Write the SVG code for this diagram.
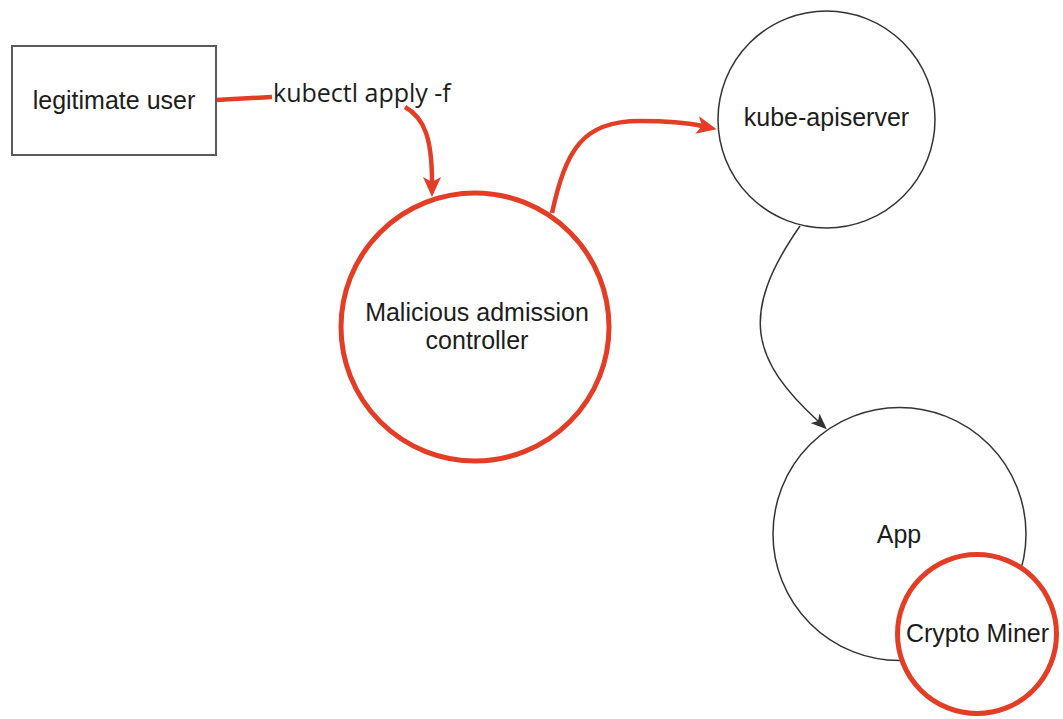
<svg xmlns="http://www.w3.org/2000/svg" width="1063" height="719" viewBox="0 0 1063 719">
  <style>
    .label { font-family: "Liberation Sans", Arial, sans-serif; font-size: 25px; fill: #1c1c1c; text-anchor: middle; }
    .cmd { font-family: "Open Sans", "DejaVu Sans", sans-serif; font-size: 25px; fill: #1c1c1c; }
    .plain { fill: #ffffff; stroke: #333333; stroke-width: 1.5; }
    .alert { fill: #ffffff; stroke: #e33d26; stroke-width: 5; }
    .box { fill: #ffffff; stroke: #5a5a5a; stroke-width: 2; }
    .link-red { fill: none; stroke: #e33d26; stroke-width: 4.5; }
    .link-dark { fill: none; stroke: #333333; stroke-width: 1.5; }
  </style>
  <defs>
    <marker id="arrow-red" markerUnits="userSpaceOnUse" viewBox="0 0 20 18" markerWidth="20" markerHeight="18" refX="5" refY="9" orient="auto">
      <path d="M0,0 L20,9 L0,18 L5,9 Z" fill="#e33d26"/>
    </marker>
    <marker id="arrow-dark" markerUnits="userSpaceOnUse" viewBox="0 0 16 13" markerWidth="16" markerHeight="13" refX="4" refY="6.5" orient="auto">
      <path d="M0,0 L16,6.5 L0,13 L4,6.5 Z" fill="#333333"/>
    </marker>
  </defs>

  <rect width="1063" height="719" fill="#ffffff"/>

  <!-- connectors -->
  <g id="connectors">
    <path class="link-red" d="M216,100 L272,97"/>
    <path class="link-red" d="M405,107 C425,118 432,140 432,182" marker-end="url(#arrow-red)"/>
    <path class="link-red" d="M552,213 C566,150 582,121 640,121 C670,121 688,123 702,126" marker-end="url(#arrow-red)"/>
    <path class="link-dark" d="M800,226 C738,315 752,360 818,421" marker-end="url(#arrow-dark)"/>
  </g>

  <g id="edge-label">
    <text class="cmd" x="273" y="102">kubectl apply -f</text>
  </g>

  <g id="user">
    <rect class="box" x="12" y="46" width="204" height="109"/>
    <text class="label" x="114" y="109">legitimate user</text>
  </g>

  <g id="admission-controller">
    <circle class="alert" cx="475" cy="327" r="134"/>
    <text class="label" x="477" y="321">Malicious admission</text>
    <text class="label" x="477" y="349">controller</text>
  </g>

  <g id="apiserver">
    <circle class="plain" cx="826.5" cy="119.5" r="108.5"/>
    <text class="label" x="826.5" y="126">kube-apiserver</text>
  </g>

  <g id="app">
    <circle class="plain" cx="899.5" cy="534" r="126.5"/>
    <text class="label" x="899" y="543">App</text>
  </g>

  <g id="crypto-miner">
    <circle class="alert" cx="977" cy="634" r="79.5"/>
    <text class="label" x="977.5" y="642">Crypto Miner</text>
  </g>
</svg>
